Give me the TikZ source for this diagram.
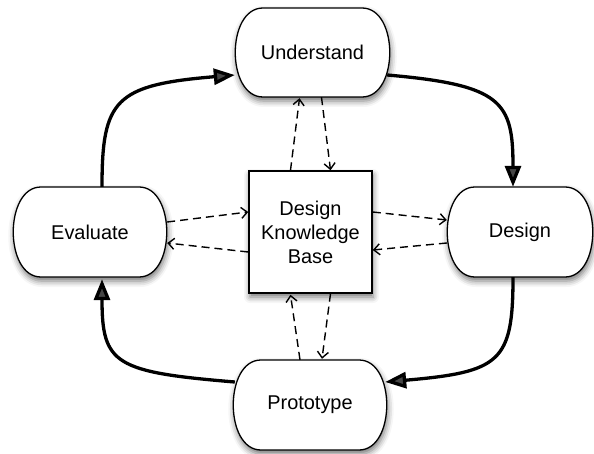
\documentclass[tikz,border=0pt]{standalone}
\usepackage{fontspec}
\setmainfont{Liberation Sans}
\usetikzlibrary{arrows.meta,calc,shadows.blur}
\begin{document}
\begin{tikzpicture}[x=1bp,y=-1bp,
  shad/.style={blur shadow={shadow xshift=1bp, shadow yshift=-4bp, shadow blur radius=6bp, shadow opacity=55}},
  termshape/.style={fill=white, draw=black, line width=1.3bp, shad},
  lbl/.style={inner sep=0pt, font=\fontsize{20}{24}\selectfont, align=center},
  kbbox/.style={draw=black, fill=white, line width=1.5bp, shad, minimum width=123bp, minimum height=122bp},
  flow/.style={line width=3.3bp, -{Triangle[length=21bp,width=16bp]}},
  link/.style={line width=1.4bp, dash pattern=on 8bp off 5bp, -{Straight Barb[length=6bp,width=11bp]}},
]
\useasboundingbox (0,0) rectangle (594,454);
\newcommand\termpath[4]{%
  \path[termshape] (#1-#3+28,#2-#4) -- (#1+#3-28,#2-#4)
    .. controls (#1+#3+9,#2-#4) and (#1+#3+9,#2+#4) .. (#1+#3-28,#2+#4)
    -- (#1-#3+28,#2+#4)
    .. controls (#1-#3-9,#2+#4) and (#1-#3-9,#2-#4) .. cycle;}
% shapes
\termpath{312.5}{52.5}{77.5}{44.5}
\termpath{90}{232}{77}{45}
\termpath{520}{232}{73}{45}
\termpath{310}{405}{77}{45}
\node[lbl, minimum width=155bp, minimum height=89bp] (und) at (312.5,52.5) {Understand};
\node[lbl, minimum width=154bp, minimum height=90bp] (eval) at (90,232) {Evaluate};
\node[lbl, minimum width=146bp, minimum height=90bp] (des) at (520,232) {Design};
\node[lbl, minimum width=154bp, minimum height=90bp] (proto) at (310,405) {Prototype};
\node[lbl, kbbox] (kb) at (310.5,232) {Design\\Knowledge\\Base};
% main cycle
\draw[flow] ($(eval.north)+(12,0)$) .. controls +(0,-87) and +(-120,10) .. ($(und.west)+(0,22.5)$);
\draw[flow] ($(und.east)+(-3,22.5)$) .. controls +(115,10) and +(0,-85) .. ($(des.north)+(-7,0)$);
\draw[flow] ($(des.south)+(-7,0)$) .. controls +(0,85) and +(115,-10) .. ($(proto.east)+(-2,-23)$);
\draw[flow] ($(proto.west)+(2,-23)$) .. controls +(-120,-10) and +(0,85) .. ($(eval.south)+(12,2)$);
% knowledge base links
\draw[link] ($(eval.east)+(0,-10)$) -- ($(kb.west)+(0,-20)$);
\draw[link] ($(kb.west)+(0,20)$) -- ($(eval.east)+(0,11)$);
\draw[link] ($(kb.east)+(0,-20)$) -- ($(des.west)+(0,-12)$);
\draw[link] ($(des.west)+(0,11)$) -- ($(kb.east)+(0,18)$);
\draw[link] ($(kb.north)+(-20,0)$) -- ($(und.south)+(-13,1)$);
\draw[link] ($(und.south)+(9,0)$) -- ($(kb.north)+(20,0)$);
\draw[link] ($(proto.north)+(-10,0)$) -- ($(kb.south)+(-20,1)$);
\draw[link] ($(kb.south)+(20,0)$) -- ($(proto.north)+(12,-1)$);
\end{tikzpicture}
\end{document}
